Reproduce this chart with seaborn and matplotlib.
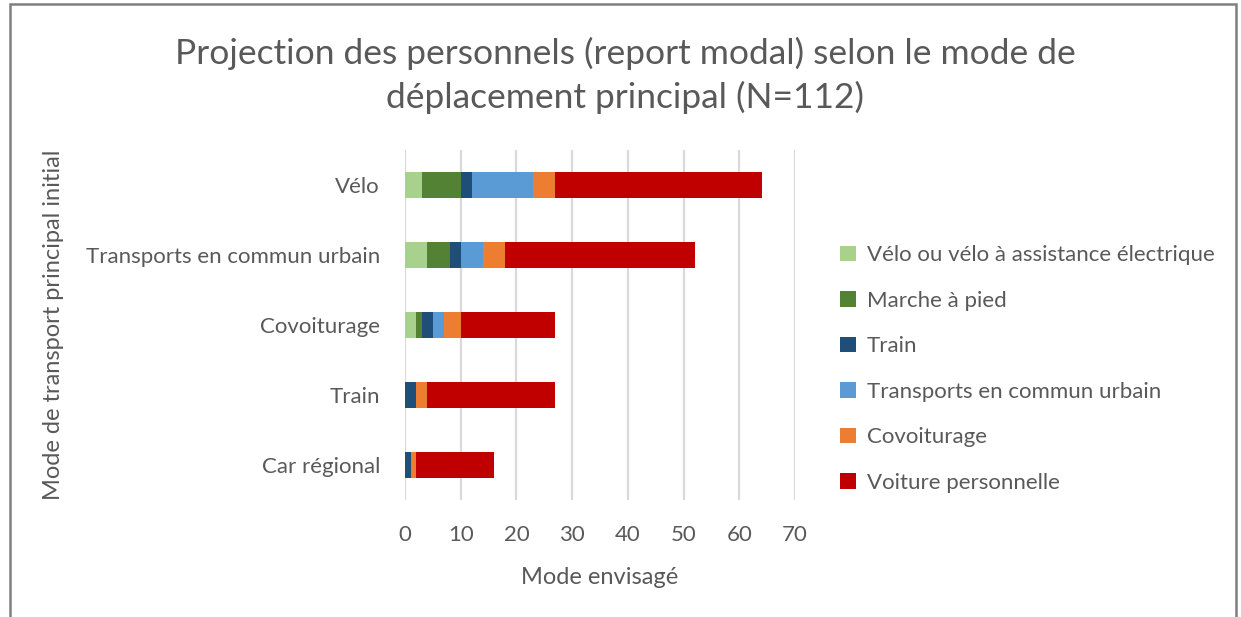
import numpy as np
import pandas as pd
import matplotlib
matplotlib.use("Agg")
import matplotlib.pyplot as plt
import seaborn as sns
from matplotlib.patches import Rectangle

# mode initial (axe des y), de haut en bas
categories = ["Vélo", "Transports en commun urbain", "Covoiturage", "Train", "Car régional"]

# mode envisagé (séries empilées)
series_names = [
    "Vélo ou vélo à assistance électrique",
    "Marche à pied",
    "Train",
    "Transports en commun urbain",
    "Covoiturage",
    "Voiture personnelle",
]
velo_vae = [3, 4, 2, 0, 0]
marche = [7, 4, 1, 0, 0]
train = [2, 2, 2, 2, 1]
tc_urbain = [11, 4, 2, 0, 0]
covoiturage = [4, 4, 3, 2, 1]
voiture = [37, 34, 17, 23, 14]

colors = ["#A9D18E", "#548235", "#1F4E79", "#5B9BD5", "#ED7D31", "#C00000"]
xticks = [0, 10, 20, 30, 40, 50, 60, 70]

sns.set_theme(style="white")
plt.rcParams["font.family"] = ["Lato", "DejaVu Sans"]
text_col = "#595959"

df = pd.DataFrame(
    {name: vals for name, vals in zip(series_names,
                                      [velo_vae, marche, train, tc_urbain, covoiturage, voiture])},
    index=categories,
)
cum = df.cumsum(axis=1)

fig = plt.figure(figsize=(12.41, 6.17), dpi=100)
ax = fig.add_axes([405 / 1241, 1 - 500 / 617, 390 / 1241, 350 / 617])

# empilement : on dessine les cumuls du plus grand au plus petit
for name, col in reversed(list(zip(series_names, colors))):
    sns.barplot(x=cum[name].values, y=categories, orient="h", color=col,
                width=0.36, ax=ax, label=name, saturation=1, linewidth=0)

ax.set_xlim(0, 70)
ax.set_xticks(xticks)
ax.xaxis.grid(True, color="#D9D9D9", linewidth=1.6)
ax.set_axisbelow(True)
for s in ax.spines.values():
    s.set_visible(False)
ax.tick_params(axis="x", length=0, labelsize=16, colors=text_col, pad=18)
ax.tick_params(axis="y", length=0, labelsize=16, colors=text_col, pad=18)
ax.set_xlabel("Mode envisagé", fontsize=17, color=text_col, labelpad=16)
ax.set_ylabel("Mode de transport principal initial", fontsize=17, color=text_col)
ax.yaxis.set_label_coords(-0.875, 0.5)

handles, labels = ax.get_legend_handles_labels()
order = [labels.index(n) for n in series_names]
ax.legend([handles[i] for i in order], [labels[i] for i in order],
          loc="center left", bbox_to_anchor=(820 / 1241, 1 - 369 / 617),
          bbox_transform=fig.transFigure, frameon=False, fontsize=16,
          handlelength=0.7, handleheight=0.7, handletextpad=0.5,
          labelspacing=1.15, labelcolor=text_col)

fig.text(625 / 1241, 1 - 75 / 617,
         "Projection des personnels (report modal) selon le mode de\ndéplacement principal (N=112)",
         ha="center", va="center", fontsize=25.5, color=text_col, linespacing=1.4)

fig.patches.append(Rectangle((10 / 1241, -0.05), 1226 / 1241, 1.05 - 4 / 617,
                             transform=fig.transFigure, fill=False,
                             edgecolor="#7F7F7F", linewidth=1.8))

fig.savefig("out.png", dpi=100)
